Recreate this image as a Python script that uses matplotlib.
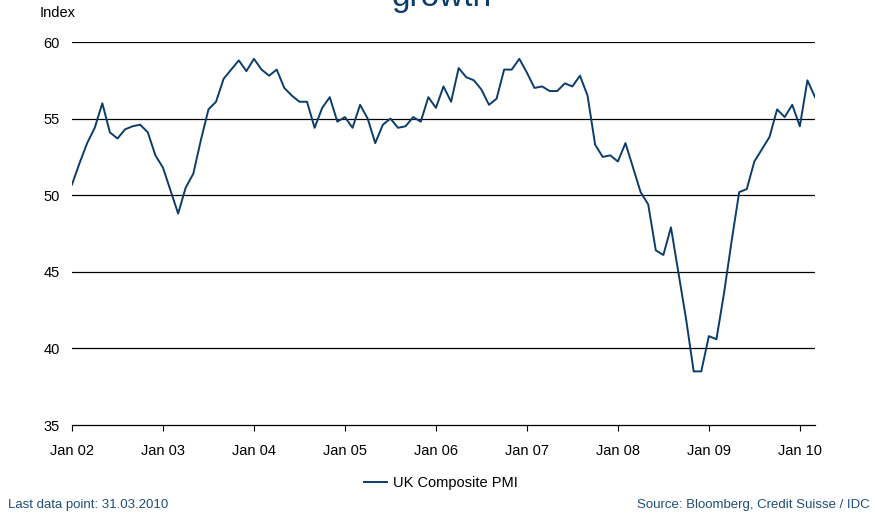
import matplotlib
matplotlib.use("Agg")
import matplotlib.pyplot as plt
import numpy as np

# UK composite PMI, monthly from Jan 2002 to Mar 2010
pmi = [
    50.7, 52.1, 53.4, 54.4, 56.0, 54.1, 53.7, 54.3, 54.5, 54.6, 54.1, 52.6,  # 2002
    51.8, 50.3, 48.8, 50.5, 51.4, 53.6, 55.6, 56.1, 57.6, 58.2, 58.8, 58.1,  # 2003
    58.9, 58.2, 57.8, 58.2, 57.0, 56.5, 56.1, 56.1, 54.4, 55.7, 56.4, 54.8,  # 2004
    55.1, 54.4, 55.9, 55.0, 53.4, 54.6, 55.0, 54.4, 54.5, 55.1, 54.8, 56.4,  # 2005
    55.7, 57.1, 56.1, 58.3, 57.7, 57.5, 56.9, 55.9, 56.3, 58.2, 58.2, 58.9,  # 2006
    58.0, 57.0, 57.1, 56.8, 56.8, 57.3, 57.1, 57.8, 56.5, 53.3, 52.5, 52.6,  # 2007
    52.2, 53.4, 51.8, 50.2, 49.4, 46.4, 46.1, 47.9, 44.9, 41.9, 38.5, 38.5,  # 2008
    40.8, 40.6, 43.6, 47.0, 50.2, 50.4, 52.2, 53.0, 53.8, 55.6, 55.1, 55.9,  # 2009
    54.5, 57.5, 56.4,                                                        # 2010
]
year_labels = ["Jan 02", "Jan 03", "Jan 04", "Jan 05", "Jan 06",
               "Jan 07", "Jan 08", "Jan 09", "Jan 10"]
y_ticks = [35, 40, 45, 50, 55, 60]

NAVY = "#0b3d6b"
TEXT_BLUE = "#1f4e79"

plt.rcParams["font.family"] = ["Liberation Sans", "DejaVu Sans"]

fig = plt.figure(figsize=(8.75, 5.15), dpi=100)
ax = fig.add_axes([72 / 875, 1 - 425 / 515, 743 / 875, 383 / 515])

x = np.arange(len(pmi))
ax.plot(x, pmi, color=NAVY, lw=1.4, label="UK Composite PMI", zorder=3)

# horizontal grid lines instead of a frame
for yv in y_ticks[1:]:
    ax.axhline(yv, color="black", lw=0.9, zorder=1)

ax.set_xlim(0, len(pmi) - 1)
ax.set_ylim(35, 60)
ax.set_xticks(np.arange(0, len(pmi), 12))
ax.set_xticklabels(year_labels)
ax.set_yticks(y_ticks)

for side in ["top", "right", "left"]:
    ax.spines[side].set_visible(False)
ax.spines["bottom"].set_linewidth(0.9)
ax.tick_params(axis="x", length=4, width=0.8, pad=10, labelsize=10.5)
ax.tick_params(axis="y", length=0, pad=9, labelsize=10.5)

ax.text(-0.043, 1.077, "Index", transform=ax.transAxes, fontsize=10.5,
        ha="left", va="center")

leg = ax.legend(loc="upper center", bbox_to_anchor=(0.496, -0.1), frameon=False,
                fontsize=10.5, handlelength=1.6, handletextpad=0.4)

# title, mostly above the top edge of the figure
fig.text(0.505, 1 - 6 / 515, "growth", color=NAVY, fontsize=24,
         ha="center", va="baseline")

fig.text(8 / 875, 1 - 505 / 515, "Last data point: 31.03.2010", color=TEXT_BLUE,
         fontsize=9.5, ha="left", va="center")
fig.text(870 / 875, 1 - 505 / 515, "Source: Bloomberg, Credit Suisse / IDC",
         color=TEXT_BLUE, fontsize=9.5, ha="right", va="center")

fig.savefig("out.png", dpi=100)
